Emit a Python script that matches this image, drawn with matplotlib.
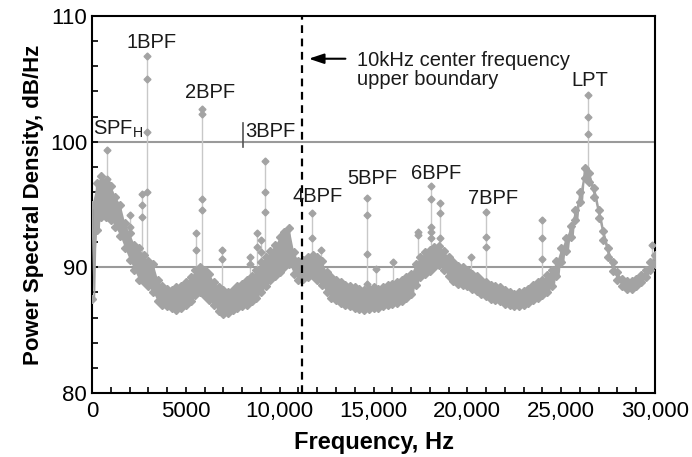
import matplotlib
matplotlib.use("Agg")
import matplotlib.pyplot as plt
import numpy as np

plt.rcParams['font.family'] = ['Liberation Sans', 'DejaVu Sans']

# broadband part of the spectrum, read every 250 Hz (upper / lower edge of the band)
freq = np.arange(0, 30001, 250)
psd_hi = [95.0, 96.7, 97.3, 96.8, 96.5, 95.6, 95.0, 93.5, 92.7, 91.8,
          91.5, 91.0, 90.5, 90.3, 89.0, 88.5, 88.3, 88.2, 88.4, 88.5,
          88.8, 89.2, 89.8, 90.0, 89.8, 89.5, 88.8, 88.4, 88.2, 88.0,
          88.2, 88.5, 88.7, 89.0, 89.3, 89.8, 90.4, 90.8, 91.3, 91.8,
          92.4, 92.8, 93.1, 91.2, 90.5, 90.6, 90.8, 91.0, 90.8, 90.5,
          89.6, 89.2, 89.0, 88.8, 88.6, 88.5, 88.4, 88.3, 88.2, 88.3,
          88.4, 88.3, 88.4, 88.6, 88.7, 88.8, 89.0, 89.2, 89.5, 90.3,
          90.8, 91.2, 91.4, 91.6, 91.7, 91.3, 90.8, 90.4, 90.1, 90.0,
          89.8, 89.5, 89.3, 89.0, 88.8, 88.6, 88.5, 88.4, 88.2, 88.0,
          87.9, 88.0, 88.1, 88.3, 88.6, 88.8, 89.0, 89.4, 89.8, 90.5,
          91.5, 92.3, 93.3, 94.6, 96.0, 97.9, 97.5, 96.3, 94.6, 92.9,
          91.5, 90.4, 89.6, 89.1, 88.9, 88.9, 89.1, 89.4, 89.8, 90.4,
          91.0]
psd_lo = [87.5, 93.0, 94.0, 94.0, 93.8, 93.2, 92.5, 91.5, 90.6, 89.8,
          89.0, 88.8, 88.5, 88.0, 87.3, 87.0, 86.9, 86.8, 86.6, 86.8,
          87.0, 87.3, 87.8, 88.0, 87.7, 87.4, 87.0, 86.5, 86.3, 86.4,
          86.6, 86.8, 86.9, 87.0, 87.3, 87.6, 88.0, 88.5, 89.0, 89.3,
          89.6, 90.0, 90.3, 89.5, 89.0, 89.1, 89.2, 89.3, 89.0, 88.6,
          88.0, 87.6, 87.4, 87.2, 87.0, 86.9, 86.8, 86.7, 86.6, 86.7,
          86.8, 86.8, 86.9, 87.0, 87.1, 87.2, 87.3, 87.6, 87.9, 88.6,
          89.2, 89.5, 89.7, 90.0, 90.2, 89.8, 89.3, 88.9, 88.7, 88.6,
          88.5, 88.3, 88.1, 87.9, 87.7, 87.5, 87.4, 87.3, 87.1, 87.0,
          86.9, 86.9, 87.0, 87.2, 87.4, 87.6, 87.8, 88.0, 88.5, 89.3,
          90.4, 91.3, 92.4, 93.8, 95.2, 97.1, 96.8, 95.6, 93.9, 92.2,
          90.8, 89.7, 89.0, 88.5, 88.3, 88.3, 88.5, 88.8, 89.2, 89.8,
          90.3]

# tonal spikes: frequency and the markers seen along each spike
spike_freq = [800, 2025, 2660, 2910, 5520, 5845, 6930, 8420, 8780, 9000,
              9220, 10100, 11740, 12210, 14670, 15130, 16020, 17390, 18065,
              18550, 20180, 21010, 23960, 26450, 29850]
spike_vals = [[99.3, 97.0], [94.2, 93.2], [95.8, 95.0, 94.0],
              [106.8, 105.0, 100.8, 96.0], [92.7, 91.4],
              [102.6, 102.2, 95.4, 94.6], [91.4, 90.7], [90.8, 90.3],
              [92.7, 91.6], [92.2, 91.2], [98.5, 96.0, 94.4], [92.4],
              [94.3, 92.3], [91.4], [95.5, 94.2, 91.1, 88.7], [89.9], [90.4],
              [92.8, 92.6], [96.5, 95.4, 93.2, 92.8, 92.3], [95.1, 94.3, 92.3],
              [90.8], [94.4, 92.4, 91.6], [93.8, 92.3, 90.7],
              [103.7, 102.0, 100.6], [91.8]]

# labels: text, x, y, alignment
labels = [("1BPF", 3150, 107.9, "center"), ("2BPF", 6290, 103.9, "center"),
          ("SPF$_{\\mathregular{H}}$", 50, 101.0, "left"),
          ("3BPF", 8150, 100.8, "left"), ("4BPF", 10660, 95.6, "left"),
          ("5BPF", 13590, 97.1, "left"), ("6BPF", 17000, 97.5, "left"),
          ("7BPF", 20040, 95.5, "left"), ("LPT", 26540, 104.9, "center")]
boundary_freq = 11190

grey = "#a3a3a3"
fig = plt.figure(figsize=(6.92, 4.57), dpi=100)
ax = fig.add_axes([0.133, 0.140, 0.8135, 0.825])

ax.axhline(90, color="#9a9a9a", lw=1.5, zorder=1)
ax.axhline(100, color="#9a9a9a", lw=1.5, zorder=1)

# spikes
for f, vals in zip(spike_freq, spike_vals):
    base = np.interp(f, freq, psd_lo)
    ax.plot([f, f], [base, max(vals)], color="#c8c8c8", lw=1.0, zorder=2)
    ax.plot([f] * len(vals), vals, ls="none", marker="D", ms=3.5,
            color=grey, mec=grey, zorder=3)

# band
ax.fill_between(freq, psd_lo, psd_hi, color=grey, lw=0, zorder=2)
xz = np.ravel(np.column_stack([freq, freq + 125]))
yz = np.ravel(np.column_stack([psd_hi, psd_lo]))
ax.plot(xz, yz, color=grey, lw=1.2, zorder=3)
ax.plot(freq, psd_hi, ls="none", marker="D", ms=4.5, color=grey, zorder=3)
ax.plot(freq, psd_lo, ls="none", marker="D", ms=4.5, color=grey, zorder=3)

ax.axvline(boundary_freq, color="black", lw=1.6, ls=(0, (3.5, 2.5)), zorder=4)

for txt, x, y, ha in labels:
    ax.text(x, y, txt, fontsize=14.5, ha=ha, va="center", color="#1a1a1a", zorder=5)
ax.plot([8030, 8030], [99.6, 101.5], color="#555555", lw=1.2, zorder=5)

ax.annotate("", xy=(11400, 106.6), xytext=(13650, 106.6),
            arrowprops=dict(arrowstyle="-|>,head_length=0.9,head_width=0.3",
                            color="black", lw=1.5))
ax.text(14120, 105.7, "10kHz center frequency\nupper boundary", fontsize=14.5,
        ha="left", va="center", linespacing=1.05, color="#1a1a1a")

ax.set_xlim(0, 30000)
ax.set_ylim(80, 110)
ax.set_xticks(np.arange(0, 30001, 5000))
ax.set_xticklabels(["0", "5000", "10,000", "15,000", "20,000", "25,000", "30,000"])
ax.set_xticks(np.arange(0, 30001, 1000), minor=True)
ax.set_yticks([80, 90, 100, 110])
ax.set_yticks(np.arange(80, 111, 2), minor=True)
ax.tick_params(which="both", direction="in", length=4, width=1.2,
               labelsize=16, top=False, right=False)
ax.tick_params(axis="x", pad=6)
for s in ax.spines.values():
    s.set_linewidth(1.5)

ax.set_xlabel("Frequency, Hz", fontsize=17, fontweight="bold", labelpad=6)
ax.set_ylabel("Power Spectral Density, dB/Hz", fontsize=16, fontweight="bold",
              labelpad=4)

fig.savefig("out.png", dpi=100)
